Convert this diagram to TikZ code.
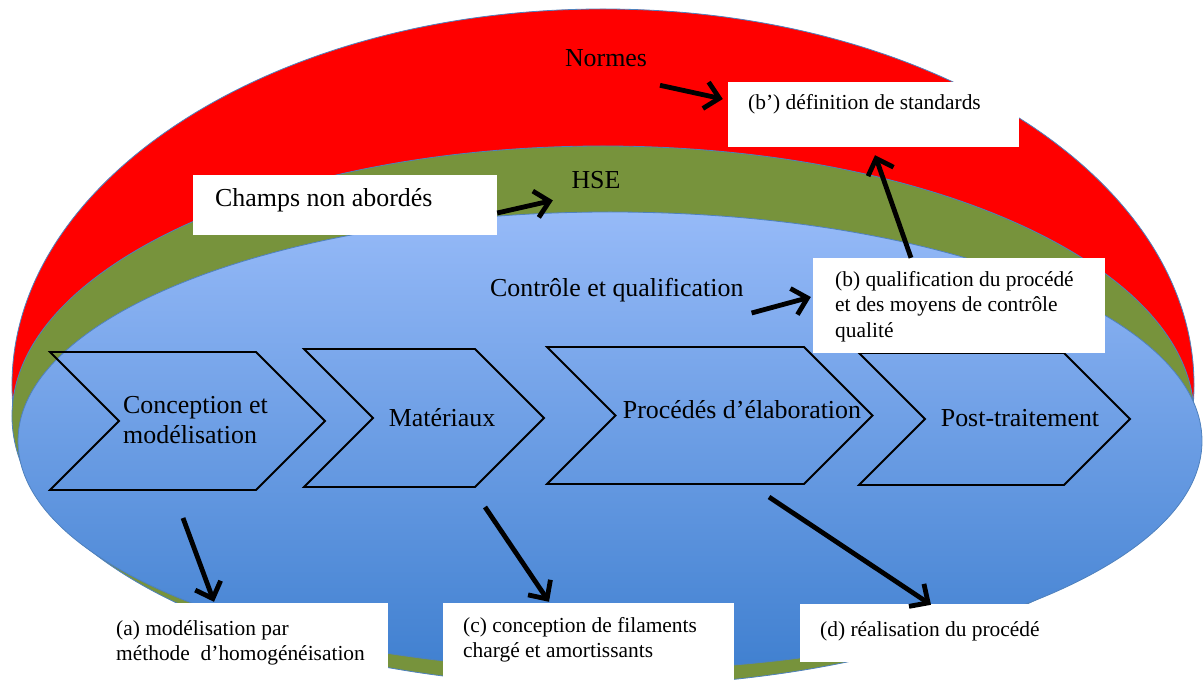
\documentclass[tikz,border=0pt]{standalone}
\usepackage{fontspec}
\setmainfont{Liberation Serif}
\usetikzlibrary{arrows.meta}

\definecolor{hsegreen}{RGB}{119,147,60}
\definecolor{rimblue}{RGB}{79,129,189}
\definecolor{skytop}{RGB}{150,186,248}
\definecolor{skybot}{RGB}{64,128,208}

\newcommand{\chevron}[5]{%
  \draw[chevline] (#1,#2) -- ++(#3,0) -- ++(#4/2,#4/2) -- ++(-#4/2,#4/2)
    -- ++(-#3,0) -- ++(#4/2,-#4/2) -- cycle;
  \coordinate (#5) at ({#1+#3/2},{#2+#4});}

\begin{document}
\def\cx{603}
\def\redrx{591bp}
\def\redry{376bp}
\def\hserx{591bp}
\def\hsery{270bp}

\begin{tikzpicture}[>={Straight Barb[length=14bp,width=27bp]},x=1bp,y=-1bp,
  bigtxt/.style={font=\fontsize{26}{30}\selectfont,inner sep=0pt,align=left},
  smalltxt/.style={font=\fontsize{21.5}{25.5}\selectfont,inner sep=0pt,align=left},
  wbox/.style={fill=white,inner sep=0pt},
  chevline/.style={draw=black,line width=1.8bp,line join=miter},
  arr/.style={->,line width=4.8bp},
  rim/.style={draw=rimblue,line width=0.8bp}]
\useasboundingbox (0,0) rectangle (1203,692);
\clip (0,0) rectangle (1203,692);

\begin{scope}
\clip (0,0) rectangle (1203,430);
\filldraw[fill=red,rim] (\cx,385) ellipse [x radius=\redrx,y radius=\redry];
\end{scope}
\filldraw[fill=hsegreen,rim] (\cx,416) ellipse [x radius=\hserx,y radius=\hsery];
\shadedraw[top color=skytop,bottom color=skybot,rim] (610,441) ellipse [x radius=592bp,y radius=229bp];

\chevron{50}{352}{206}{138}{chevA}
\chevron{304}{349}{171}{138}{chevB}
\chevron{547}{347}{257}{137}{chevC}
\chevron{859}{353}{205}{132}{chevD}

\node[wbox,minimum width=304bp,minimum height=60bp] (champs) at (345,205) {};
\node[wbox,minimum width=291bp,minimum height=65bp] (bprime) at (873.5,114.5) {};
\node[wbox,minimum width=292bp,minimum height=95bp] (bq) at (959,305.5) {};
\node[wbox,minimum width=288bp,minimum height=80bp] (boxa) at (244,643) {};
\node[wbox,minimum width=291bp,minimum height=89bp] (boxc) at (588.5,647.5) {};
\node[wbox,minimum width=245bp,minimum height=58bp] (boxd) at (922.5,633) {};

\node[bigtxt] (normes) at (606,58) {Normes};
\node[bigtxt] (hse) at (596,180) {HSE};
\node[bigtxt,anchor=west] (champstxt) at (215,200) {Champs non abordés};
\node[bigtxt,anchor=west] (controle) at (490,290) {Contrôle et qualification};
\node[bigtxt,anchor=west] (concep) at (123,420) {Conception et\\modélisation};
\node[bigtxt] (mater) at (442,418) {Matériaux};
\node[bigtxt] (proced) at (742,410) {Procédés d’élaboration};
\node[bigtxt] (postt) at (1020,418) {Post-traitement};

\node[smalltxt,anchor=west] (bprimetxt) at (748,104) {(b’) définition de standards};
\node[smalltxt,anchor=north west] (bqtxt) at (835,271) {(b) qualification du procédé\\et des moyens de contrôle\\qualité};
\node[smalltxt,anchor=north west] (atxt) at (116,620) {(a) modélisation par\\méthode\ \ d’homogénéisation};
\node[smalltxt,anchor=north west] (ctxt) at (463,617) {(c) conception de filaments\\chargé et amortissants};
\node[smalltxt,anchor=west] (dtxt) at (820,631) {(d) réalisation du procédé};

\draw[arr] ([shift={(54,18.5)}]normes.south) -- ([shift={(-5,-15.5)}]bprime.west);
\draw[arr] ([shift={(0,8)}]champs.east) -- ([shift={(-18.5,11.5)}]hse.south west);
\draw[arr] ([shift={(-48,0)}]bq.north) -- ([shift={(1.5,8)}]bprime.south);
\draw[arr] ([shift={(8,23)}]controle.east) -- ([shift={(-2,-8.5)}]bq.west);
\draw[arr] ([shift={(30,28)}]chevA) -- ([shift={(-30,-1)}]boxa.north);
\draw[arr] ([shift={(95.5,20)}]chevB) -- ([shift={(-39.5,-1)}]boxc.north);
\draw[arr] ([shift={(93.5,13)}]chevC) -- ([shift={(8.5,1)}]boxd.north);

\end{tikzpicture}
\end{document}
